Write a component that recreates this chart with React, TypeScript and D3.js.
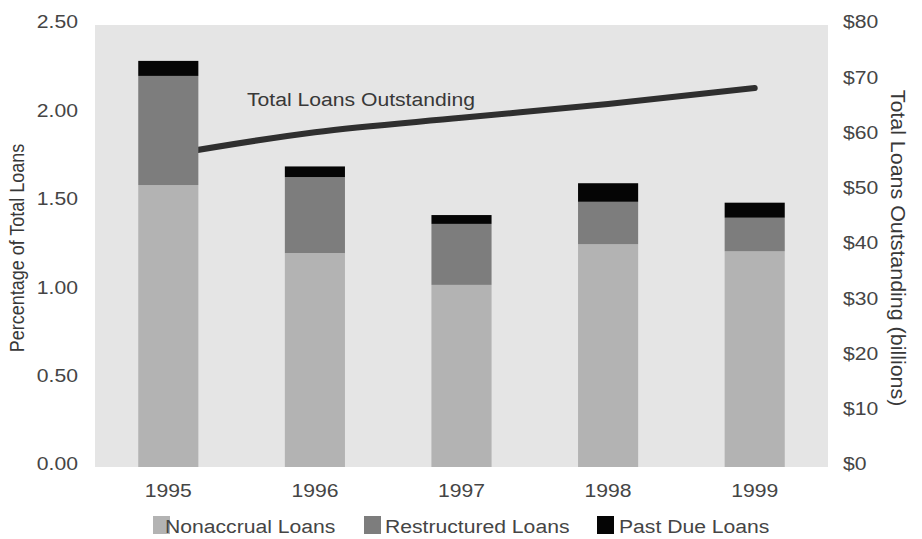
import React from "react";
import * as d3 from "d3";

const years = ["1995", "1996", "1997", "1998", "1999"];
const nonaccrual = [1.595, 1.21, 1.03, 1.26, 1.22];
const restructured = [0.617, 0.43, 0.345, 0.24, 0.19];
const pastDue = [0.085, 0.06, 0.05, 0.105, 0.085];
const totalLoans = [56.5, 60.6, 63.2, 65.7, 68.6];
const leftTicks = [0, 0.5, 1, 1.5, 2, 2.5];
const rightTicks = [0, 10, 20, 30, 40, 50, 60, 70, 80];
const seriesNames = ["Nonaccrual Loans", "Restructured Loans", "Past Due Loans"];
const seriesColors = ["#b3b3b3", "#7d7d7d", "#050505"];

const W = 922;
const H = 539;
const SX = 1.175;
const FONT = "'Liberation Sans', Arial, Helvetica, sans-serif";

function WText({ x, y, anchor = "start", fill = "#454545", size = 18, baseline, children }: any) {
  return (
    <g transform={`translate(${x},${y}) scale(${SX},1)`}>
      <text
        x={0}
        y={0}
        textAnchor={anchor}
        dominantBaseline={baseline}
        fill={fill}
        fontSize={size}
        fontFamily={FONT}
      >
        {children}
      </text>
    </g>
  );
}

export default function App() {
  const plot = { left: 95, right: 828, top: 25, bottom: 467 };
  const x = d3
    .scaleBand<string>()
    .domain(years)
    .range([plot.left, plot.right])
    .paddingInner(0.59)
    .paddingOuter(0.295);
  const y = d3.scaleLinear().domain([0, 2.5]).range([plot.bottom, plot.top]);
  const y2 = d3.scaleLinear().domain([0, 80]).range([plot.bottom, plot.top]);

  const data = years.map((yr, i) => ({
    year: yr,
    nonaccrual: nonaccrual[i],
    restructured: restructured[i],
    pastDue: pastDue[i],
  }));
  const keys = ["nonaccrual", "restructured", "pastDue"];
  const stacked = d3.stack<any>().keys(keys)(data);

  const line = d3
    .line<number>()
    .x((_, i) => (x(years[i]) as number) + x.bandwidth() / 2)
    .y((d) => y2(d))
    .curve(d3.curveMonotoneX);

  const legendX = [153, 364, 597];
  const legendTextX = [165, 385, 619];

  return (
    <svg
      width={W}
      height={H}
      style={{ position: "absolute", left: 0, top: 0, background: "#fff" }}
    >
      <rect
        x={plot.left}
        y={plot.top}
        width={plot.right - plot.left}
        height={plot.bottom - plot.top}
        fill="#e5e5e5"
      />
      <path
        d={line(totalLoans) || ""}
        fill="none"
        stroke="#2f2f2f"
        strokeWidth={6}
        strokeLinecap="round"
        strokeLinejoin="round"
      />
      {stacked.map((layer, li) => (
        <g key={li} fill={seriesColors[li]}>
          {layer.map((d: any, i: number) => (
            <rect
              key={i}
              x={x(years[i])}
              width={x.bandwidth()}
              y={y(d[1])}
              height={y(d[0]) - y(d[1])}
            />
          ))}
        </g>
      ))}
      <WText x={247} y={106} fill="#383838">
        Total Loans Outstanding
      </WText>

      {leftTicks.map((t) => (
        <WText key={t} x={78} y={y(t) - 3} anchor="end" baseline="central">
          {d3.format(".2f")(t)}
        </WText>
      ))}
      {rightTicks.map((t) => (
        <WText key={t} x={843} y={y2(t) - 3} baseline="central">
          {"$" + t}
        </WText>
      ))}
      {years.map((yr) => (
        <WText key={yr} x={(x(yr) as number) + x.bandwidth() / 2} y={497} anchor="middle">
          {yr}
        </WText>
      ))}

      <text
        transform={`translate(16,248) rotate(-90) scale(1,1.17)`}
        textAnchor="middle"
        dominantBaseline="central"
        fontSize={18}
        fontFamily={FONT}
        fill="#383838"
      >
        Percentage of Total Loans
      </text>
      <text
        transform={`translate(898,248) rotate(90) scale(1.19,1.17)`}
        textAnchor="middle"
        dominantBaseline="central"
        fontSize={18}
        fontFamily={FONT}
        fill="#383838"
      >
        Total Loans Outstanding (billions)
      </text>

      {seriesNames.map((name, i) => (
        <g key={name}>
          <rect x={legendX[i]} y={516} width={17} height={18} fill={seriesColors[i]} />
          <WText x={legendTextX[i]} y={533}>
            {name}
          </WText>
        </g>
      ))}
    </svg>
  );
}
